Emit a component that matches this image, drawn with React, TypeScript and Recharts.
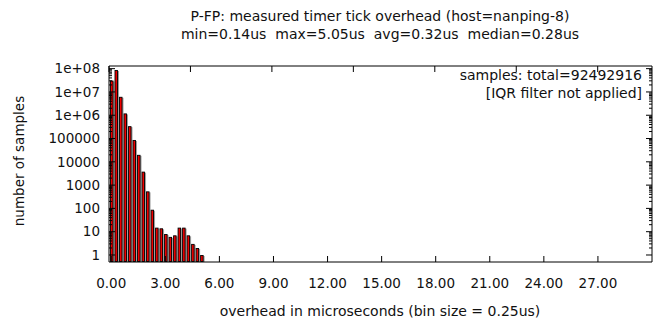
import React from "react";
import { BarChart, Bar, XAxis, YAxis } from "recharts";

// bin start (us) and number of samples per 0.25us bin
const binStarts = [0, 0.25, 0.5, 0.75, 1, 1.25, 1.5, 1.75, 2, 2.25, 2.5, 2.75, 3, 3.25, 3.5, 3.75, 4, 4.25, 4.5, 4.75, 5];
const sampleCounts = [31000000, 88000000, 6200000, 1200000, 340000, 87000, 20000, 3800, 540, 88, 15, 14, 8, 6, 7, 15, 15, 7, 3, 2, 1];

const xTicks = [0, 3, 6, 9, 12, 15, 18, 21, 24, 27];
const yMajorTicks = [1, 10, 100, 1000, 10000, 100000, 1000000, 10000000, 100000000];
const yMinorSteps = [1, 2, 3, 4, 5, 6, 7, 8, 9];

const titleLines = [
  "P-FP: measured timer tick overhead (host=nanping-8)",
  "min=0.14us  max=5.05us  avg=0.32us  median=0.28us",
];
const noteLines = ["samples: total=92492916", "[IQR filter not applied]"];
const xLabel = "overhead in microseconds (bin size = 0.25us)";
const yLabel = "number of samples";

const W = 660;
const H = 325;
const LEFT = 109;
const RIGHT = 652;
const TOP = 66;
const BOTTOM = 262;
const FONT = "'DejaVu Sans', sans-serif";
const X_DOMAIN: [number, number] = [-0.125, 30];
const Y_DOMAIN: [number, number] = [0.5, 1.3e8];

const data = binStarts.map((x, i) => ({ x, count: sampleCounts[i] }));
const yTicks = yMajorTicks
  .flatMap((p) => yMinorSteps.map((m) => m * p))
  .filter((v) => v >= Y_DOMAIN[0] && v <= Y_DOMAIN[1]);

const fmtY = (v: number) => {
  if (v >= 1000000) {
    const e = Math.round(Math.log10(v));
    return `1e+${String(e).padStart(2, "0")}`;
  }
  return String(v);
};

const LeftTick = (props: any) => {
  const { y, payload } = props;
  const major = yMajorTicks.includes(payload.value);
  return (
    <g>
      <line x1={LEFT} x2={LEFT + (major ? 6 : 3)} y1={y} y2={y} stroke="#000" />
      {major && (
        <text x={LEFT - 9} y={y} dy="0.35em" textAnchor="end" fontSize={13.5} fontFamily={FONT} fill="#111">
          {fmtY(payload.value)}
        </text>
      )}
    </g>
  );
};

const RightTick = (props: any) => {
  const { y, payload } = props;
  const major = yMajorTicks.includes(payload.value);
  return <line x1={RIGHT} x2={RIGHT - (major ? 6 : 3)} y1={y} y2={y} stroke="#000" />;
};

const BottomTick = (props: any) => {
  const { x, payload } = props;
  return (
    <g>
      <line x1={x} x2={x} y1={BOTTOM} y2={BOTTOM - 6} stroke="#000" />
      <text x={x} y={283} dy="0.35em" textAnchor="middle" fontSize={13.5} fontFamily={FONT} fill="#111">
        {payload.value.toFixed(2)}
      </text>
    </g>
  );
};

const TopTick = (props: any) => {
  const { x } = props;
  return <line x1={x} x2={x} y1={TOP} y2={TOP + 6} stroke="#000" />;
};

const HistBar = (props: any) => {
  const { x, y, width, height } = props;
  if (!height || height <= 0) return null;
  return (
    <g>
      <rect x={x + 1} y={y + 1} width={width} height={height - 1} fill="#a0a0a0" />
      <rect x={x + 0.5} y={y + 0.5} width={width - 1} height={height - 1} fill="#ee0000" stroke="#000" strokeWidth={0.9} />
    </g>
  );
};

const textStyle: React.CSSProperties = {
  position: "absolute",
  fontFamily: FONT,
  fontSize: 14,
  color: "#111",
  whiteSpace: "pre",
  lineHeight: 1,
};

export default function App() {
  return (
    <div style={{ position: "absolute", left: 0, top: 0, width: W, height: H, background: "#fff" }}>
      <BarChart width={W} height={H} data={data} margin={{ top: 60, right: 0, bottom: 0, left: 0 }}>
        <XAxis
          dataKey="x"
          type="number"
          domain={X_DOMAIN}
          allowDataOverflow
          ticks={xTicks}
          height={H - BOTTOM}
          axisLine={{ stroke: "#000" }}
          tickLine={false}
          tick={<BottomTick />}
          interval={0}
        />
        <XAxis
          xAxisId="top"
          orientation="top"
          type="number"
          domain={X_DOMAIN}
          allowDataOverflow
          ticks={xTicks}
          height={6}
          axisLine={{ stroke: "#000" }}
          tickLine={false}
          tick={<TopTick />}
          interval={0}
        />
        <YAxis
          type="number"
          scale="log"
          domain={Y_DOMAIN}
          allowDataOverflow
          ticks={yTicks}
          width={LEFT}
          axisLine={{ stroke: "#000" }}
          tickLine={false}
          tick={<LeftTick />}
          interval={0}
        />
        <YAxis
          yAxisId="right"
          orientation="right"
          type="number"
          scale="log"
          domain={Y_DOMAIN}
          allowDataOverflow
          ticks={yTicks}
          width={W - RIGHT}
          axisLine={{ stroke: "#000" }}
          tickLine={false}
          tick={<RightTick />}
          interval={0}
        />
        <Bar dataKey="count" barSize={3.5} shape={<HistBar />} isAnimationActive={false} />
      </BarChart>

      {titleLines.map((t, i) => (
        <div key={t} style={{ ...textStyle, left: 380, top: 16 + i * 18, transform: "translate(-50%, -50%)" }}>
          {t}
        </div>
      ))}
      {noteLines.map((t, i) => (
        <div key={t} style={{ ...textStyle, right: W - 642, top: 75 + i * 18, transform: "translateY(-50%)" }}>
          {t}
        </div>
      ))}
      <div style={{ ...textStyle, left: 380, top: 311, transform: "translate(-50%, -50%)" }}>{xLabel}</div>
      <div
        style={{
          ...textStyle,
          fontSize: 13.5,
          left: 20,
          top: 161,
          transform: "translate(-50%, -50%) rotate(-90deg)",
        }}
      >
        {yLabel}
      </div>
    </div>
  );
}
